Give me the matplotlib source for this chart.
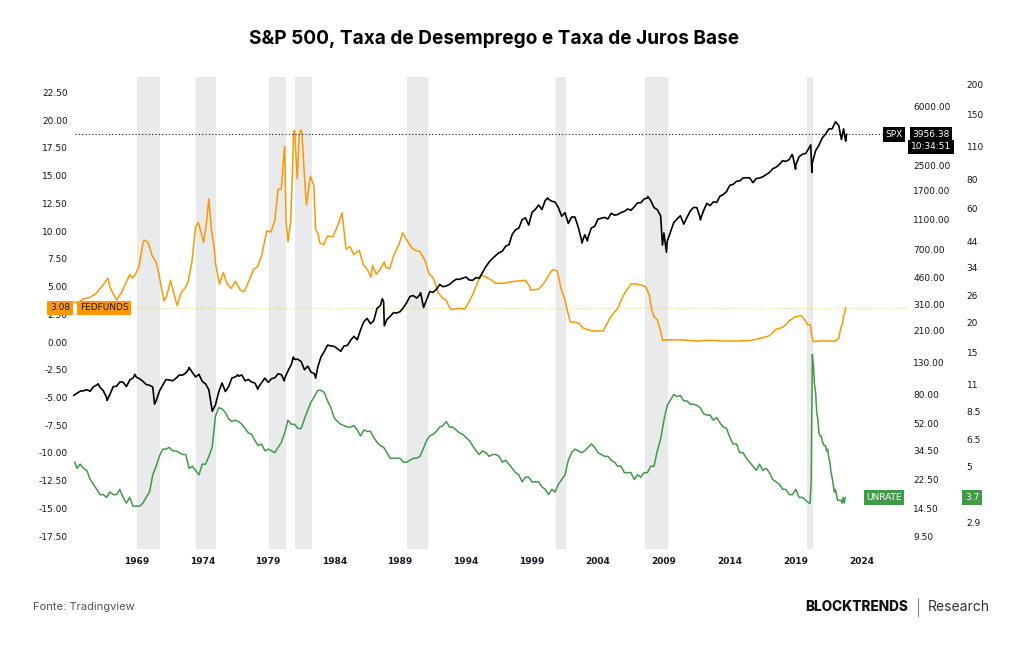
import matplotlib.pyplot as plt
import numpy as np
from matplotlib.ticker import FixedLocator, FixedFormatter, NullLocator
from matplotlib.transforms import blended_transform_factory
from matplotlib.lines import Line2D

# ---------------- data ----------------
# S&P 500 quarter-end closes, 1964..2021 (Q1..Q4)
spx_years = list(range(1964, 2022))
spx_quarters = [
    [78.98, 81.69, 84.18, 84.75], [86.16, 84.12, 89.96, 92.43],
    [89.23, 84.74, 76.56, 80.33], [90.20, 90.64, 96.71, 96.47],
    [90.20, 99.58, 102.67, 103.86], [101.51, 97.71, 93.12, 92.06],
    [89.63, 72.72, 84.21, 92.15], [100.31, 99.70, 98.34, 102.09],
    [107.20, 107.14, 110.55, 118.05], [111.52, 104.26, 108.43, 97.55],
    [93.98, 86.00, 63.54, 68.56], [83.36, 95.19, 83.87, 90.19],
    [102.77, 104.28, 105.24, 107.46], [98.42, 100.48, 96.53, 95.10],
    [89.21, 95.53, 102.54, 96.11], [101.59, 102.91, 109.32, 107.94],
    [102.09, 114.24, 125.46, 135.76], [136.00, 131.21, 116.18, 122.55],
    [111.96, 109.61, 120.42, 140.64], [152.96, 168.11, 166.07, 164.93],
    [159.18, 153.18, 166.10, 167.24], [180.66, 191.85, 182.08, 211.28],
    [238.90, 250.84, 231.32, 242.17], [291.70, 304.00, 321.83, 247.08],
    [258.89, 273.50, 271.91, 277.72], [294.87, 317.98, 349.15, 353.40],
    [339.94, 358.02, 306.05, 330.22], [375.22, 371.16, 387.86, 417.09],
    [403.69, 408.14, 417.80, 435.71], [451.67, 450.53, 458.93, 466.45],
    [445.77, 444.27, 462.69, 459.27], [500.71, 544.75, 584.41, 615.93],
    [645.50, 670.63, 687.33, 740.74], [757.12, 885.14, 947.28, 970.43],
    [1101.75, 1133.84, 1017.01, 1229.23], [1286.37, 1372.71, 1282.71, 1469.25],
    [1498.58, 1454.60, 1436.51, 1320.28], [1160.33, 1224.42, 1040.94, 1148.08],
    [1147.39, 989.82, 815.28, 879.82], [848.18, 974.50, 995.97, 1111.92],
    [1126.21, 1140.84, 1114.58, 1211.92], [1180.59, 1191.33, 1228.81, 1248.29],
    [1294.83, 1270.20, 1335.85, 1418.30], [1420.86, 1503.35, 1526.75, 1468.36],
    [1322.70, 1280.00, 1166.36, 903.25], [797.87, 919.32, 1057.08, 1115.10],
    [1169.43, 1030.71, 1141.20, 1257.64], [1325.83, 1320.64, 1131.42, 1257.60],
    [1408.47, 1362.16, 1440.67, 1426.19], [1569.19, 1606.28, 1681.55, 1848.36],
    [1872.34, 1960.23, 1972.29, 2058.90], [2067.89, 2063.11, 1920.03, 2043.94],
    [2059.74, 2098.86, 2168.27, 2238.83], [2362.72, 2423.41, 2519.36, 2673.61],
    [2640.87, 2718.37, 2913.98, 2506.85], [2834.40, 2941.76, 2976.74, 3230.78],
    [2584.59, 3100.29, 3363.00, 3756.07], [3972.89, 4297.50, 4307.54, 4766.18],
]
# intermediate highs / lows and the last months
spx_extra_dates = [1966.10, 1966.78, 1968.90, 1970.38, 1973.00, 1974.76, 1976.70,
                   1978.20, 1980.22, 1980.90, 1982.60, 1987.65, 1987.80, 1990.55,
                   1990.78, 2000.20, 2002.78, 2003.20, 2007.78, 2008.89, 2009.19,
                   2011.76, 2018.72, 2018.98, 2020.13, 2020.22, 2022.00, 2022.25,
                   2022.46, 2022.62, 2022.78, 2022.83, 2022.86]
spx_extra_vals = [94.06, 73.20, 108.37, 69.29, 120.24, 62.28, 107.80,
                  86.90, 98.22, 140.52, 102.42, 336.77, 224.84, 368.95,
                  295.46, 1527.46, 776.76, 800.73, 1565.15, 752.44, 676.53,
                  1099.23, 2930.75, 2351.10, 3386.15, 2237.40, 4796.56, 4530.41,
                  3666.77, 4305.20, 3577.03, 3871.98, 3956.38]

# Unemployment rate, values for Jan/Apr/Jul/Oct, 1965..2019
un_years = list(range(1965, 2020))
un_quarters = [
    [4.9, 4.8, 4.4, 4.2], [4.0, 3.8, 3.8, 3.7], [3.9, 3.8, 3.8, 4.0],
    [3.7, 3.5, 3.7, 3.4], [3.4, 3.4, 3.5, 3.7], [3.9, 4.6, 5.0, 5.5],
    [5.9, 5.9, 6.0, 5.8], [5.8, 5.7, 5.6, 5.6], [4.9, 5.0, 4.8, 4.6],
    [5.1, 5.1, 5.5, 6.0], [8.1, 8.8, 8.7, 8.4], [7.9, 7.7, 7.8, 7.7],
    [7.5, 7.2, 6.9, 6.8], [6.4, 6.1, 6.2, 5.8], [5.9, 5.8, 5.7, 6.0],
    [6.3, 6.9, 7.8, 7.5], [7.5, 7.2, 7.2, 7.9], [8.6, 9.3, 9.8, 10.4],
    [10.4, 10.2, 9.4, 8.8], [8.0, 7.7, 7.5, 7.4], [7.3, 7.3, 7.4, 7.1],
    [6.7, 7.1, 7.0, 7.0], [6.6, 6.3, 6.1, 6.0], [5.7, 5.4, 5.4, 5.4],
    [5.4, 5.2, 5.2, 5.3], [5.4, 5.4, 5.5, 5.9], [6.4, 6.7, 6.8, 7.0],
    [7.3, 7.4, 7.7, 7.3], [7.3, 7.1, 6.9, 6.8], [6.6, 6.4, 6.1, 5.8],
    [5.6, 5.8, 5.7, 5.5], [5.6, 5.6, 5.5, 5.2], [5.3, 5.1, 4.9, 4.7],
    [4.6, 4.3, 4.5, 4.5], [4.3, 4.3, 4.3, 4.1], [4.0, 3.8, 4.0, 3.9],
    [4.2, 4.4, 4.6, 5.3], [5.7, 5.9, 5.8, 5.7], [5.8, 6.0, 6.2, 6.0],
    [5.7, 5.6, 5.5, 5.5], [5.3, 5.2, 5.0, 5.0], [4.7, 4.7, 4.7, 4.4],
    [4.6, 4.5, 4.7, 4.7], [5.0, 5.0, 5.8, 6.5], [7.8, 9.0, 9.5, 10.0],
    [9.8, 9.9, 9.4, 9.4], [9.1, 9.1, 9.0, 8.8], [8.3, 8.2, 8.2, 7.8],
    [8.0, 7.6, 7.3, 7.2], [6.6, 6.2, 6.2, 5.7], [5.7, 5.4, 5.2, 5.0],
    [4.8, 5.1, 4.8, 4.9], [4.7, 4.4, 4.3, 4.2], [4.0, 4.0, 3.8, 3.8],
    [4.0, 3.7, 3.7, 3.6],
]
un_start_dates = [1964.33, 1964.50, 1964.75]
un_start_vals = [5.2, 4.9, 5.1]
# monthly 2020-01 .. 2022-10
un_recent = [3.5, 3.5, 4.4, 14.7, 13.2, 11.0, 10.2, 8.4, 7.9, 6.9, 6.7, 6.7,
             6.4, 6.2, 6.1, 6.1, 5.8, 5.9, 5.4, 5.2, 4.7, 4.5, 4.2, 3.9,
             4.0, 3.8, 3.6, 3.6, 3.6, 3.6, 3.5, 3.7, 3.5, 3.7]

# Effective federal funds rate
fed_dates = [1964.33, 1964.60, 1964.90, 1965.50, 1965.90, 1966.50, 1966.85, 1967.00,
             1967.50, 1967.90, 1968.50, 1968.70, 1968.90, 1969.20, 1969.50, 1969.60,
             1969.90, 1970.20, 1970.50, 1970.70, 1970.90, 1971.10, 1971.30, 1971.60,
             1971.90, 1972.10, 1972.40, 1972.70, 1972.90, 1973.20, 1973.50, 1973.70,
             1973.90, 1974.10, 1974.30, 1974.50, 1974.70, 1974.90, 1975.00, 1975.30,
             1975.60, 1975.90, 1976.20, 1976.50, 1976.90, 1977.20, 1977.50, 1977.90,
             1978.20, 1978.50, 1978.90, 1979.20, 1979.50, 1979.75, 1979.90, 1980.00,
             1980.20, 1980.25, 1980.35, 1980.50, 1980.70, 1980.85, 1980.92, 1981.00,
             1981.20, 1981.35, 1981.45, 1981.55, 1981.70, 1981.90, 1982.00, 1982.20,
             1982.45, 1982.60, 1982.80, 1982.90, 1983.20, 1983.50, 1983.90, 1984.20,
             1984.60, 1984.90, 1985.20, 1985.50, 1985.90, 1986.20, 1986.50, 1986.80,
             1986.90, 1987.20, 1987.50, 1987.80, 1987.90, 1988.20, 1988.50, 1988.90,
             1989.20, 1989.50, 1989.90, 1990.20, 1990.50, 1990.90, 1991.20, 1991.50,
             1991.90, 1992.20, 1992.50, 1992.70, 1992.90, 1993.50, 1993.90, 1994.20,
             1994.50, 1994.90, 1995.20, 1995.50, 1995.90, 1996.20, 1996.90, 1997.20,
             1997.90, 1998.50, 1998.80, 1998.90, 1999.50, 1999.90, 2000.40, 2000.60,
             2000.90, 2001.00, 2001.20, 2001.50, 2001.75, 2001.90, 2002.50, 2002.90,
             2003.50, 2003.90, 2004.40, 2004.90, 2005.50, 2005.90, 2006.50, 2006.90,
             2007.60, 2007.90, 2008.05, 2008.25, 2008.50, 2008.75, 2008.90, 2009.50,
             2010.50, 2011.50, 2012.50, 2013.50, 2014.50, 2015.50, 2015.95, 2016.50,
             2016.95, 2017.20, 2017.50, 2017.95, 2018.20, 2018.50, 2018.95, 2019.40,
             2019.65, 2019.90, 2020.10, 2020.20, 2020.30, 2020.90, 2021.50, 2022.00,
             2022.25, 2022.40, 2022.55, 2022.60, 2022.70, 2022.78]
fed_vals = [3.60, 3.50, 3.85, 4.04, 4.32, 5.17, 5.76, 4.94,
            3.79, 4.51, 6.07, 5.78, 6.02, 6.79, 8.90, 9.19,
            8.97, 7.76, 7.21, 6.20, 4.90, 3.71, 4.15, 5.57,
            4.14, 3.29, 4.46, 4.87, 5.33, 7.09, 10.40, 10.78,
            9.95, 8.97, 10.51, 12.92, 10.06, 8.53, 7.13, 5.22,
            6.24, 5.20, 4.84, 5.48, 4.65, 4.54, 5.42, 6.56,
            6.79, 7.81, 10.03, 9.91, 10.94, 13.77, 13.78, 13.82,
            17.19, 17.61, 10.98, 9.03, 10.87, 15.85, 18.90, 19.08,
            14.70, 18.52, 19.10, 19.04, 15.87, 12.37, 13.22, 14.94,
            14.15, 10.12, 9.71, 8.95, 8.77, 9.56, 9.47, 10.29,
            11.64, 8.38, 8.58, 7.88, 8.27, 6.99, 6.56, 5.85,
            6.91, 6.10, 6.58, 7.22, 6.77, 6.58, 7.75, 8.76,
            9.85, 9.20, 8.45, 8.25, 8.15, 7.31, 6.12, 5.82,
            4.43, 3.98, 3.76, 3.22, 2.92, 3.04, 2.96, 3.56,
            4.26, 5.45, 6.05, 5.85, 5.60, 5.30, 5.29, 5.39,
            5.50, 5.56, 5.07, 4.68, 4.76, 5.30, 6.27, 6.54,
            6.40, 5.98, 4.80, 3.77, 2.49, 1.82, 1.73, 1.24,
            1.01, 0.98, 1.00, 2.16, 3.04, 4.16, 5.24, 5.24,
            5.02, 4.24, 2.98, 2.28, 2.01, 0.97, 0.16, 0.21,
            0.18, 0.09, 0.16, 0.09, 0.09, 0.13, 0.24, 0.39,
            0.54, 0.79, 1.15, 1.30, 1.51, 1.91, 2.27, 2.38,
            2.04, 1.55, 1.58, 0.65, 0.05, 0.09, 0.08, 0.08,
            0.33, 1.21, 1.68, 2.33, 2.56, 3.08]

# shaded periods (as drawn on the chart)
rec_start = [1969.03, 1973.53, 1979.04, 1981.03, 1989.55, 2000.82, 2007.57, 2019.83]
rec_end = [1970.80, 1975.04, 1980.33, 1982.30, 1991.09, 2001.58, 2009.29, 2020.33]

year_ticks = list(range(1969, 2025, 5))
fed_ticks = np.arange(-17.5, 22.51, 2.5)
spx_ticks = [9.5, 14.5, 22.5, 34.5, 52, 80, 130, 210, 310, 460, 700, 1100, 1700, 2500, 6000]
un_ticks = [2.9, 5, 6.5, 8.5, 11, 15, 20, 26, 34, 44, 60, 80, 110, 150, 200]
un_tick_labels = ["2.9", "5", "6.5", "8.5", "11", "15", "20", "26", "34", "44",
                  "60", "80", "110", "150", "200"]

# ---------------- build series ----------------
spx_d = [y + 0.25 * (q + 1) for y in spx_years for q in range(4)] + spx_extra_dates
spx_v = [v for row in spx_quarters for v in row] + spx_extra_vals
order = np.argsort(spx_d)
spx_d = np.array(spx_d)[order]
spx_v = np.array(spx_v)[order]

un_d = un_start_dates + [y + 0.25 * q for y in un_years for q in range(4)] \
    + [2020 + i / 12 for i in range(len(un_recent))]
un_v = un_start_vals + [v for row in un_quarters for v in row] + un_recent

ORANGE = "#ff9800"
GREEN = "#3f9b46"
TXT = "#131722"

W, H = 1024, 645
fig = plt.figure(figsize=(W / 100, H / 100), dpi=100)
ax = fig.add_axes([72 / W, 96 / H, 806 / W, 472 / H])
ax2 = ax.twinx()
ax3 = ax.twinx()

for s, e in zip(rec_start, rec_end):
    ax.axvspan(s, e, color="#e9eaec", lw=0, zorder=0)

ax.plot(fed_dates, fed_vals, color=ORANGE, lw=1.1, zorder=2)
ax2.plot(spx_d, spx_v, color="black", lw=1.2, zorder=3)
ax3.plot(un_d, un_v, color=GREEN, lw=1.1, zorder=3)

ax.set_xlim(1964.125, 2025.23)
ax.set_ylim(-18.66, 23.89)
ax2.set_yscale("log")
ax2.set_ylim(7.90, 9368)
ax3.set_yscale("log")
ax3.set_ylim(2.248, 214.6)

for a in (ax, ax2, ax3):
    for sp in a.spines.values():
        sp.set_visible(False)

ax.set_xticks(year_ticks)
ax.set_xticklabels([str(y) for y in year_ticks], fontweight="bold")
ax.set_yticks(fed_ticks)
ax.set_yticklabels([f"{v:.2f}" for v in fed_ticks])
ax.tick_params(axis="x", length=0, pad=6, labelsize=6.5, labelcolor=TXT)
ax.tick_params(axis="y", length=0, pad=3, labelsize=6.5, labelcolor=TXT)

ax2.yaxis.set_major_locator(FixedLocator(spx_ticks))
ax2.yaxis.set_major_formatter(FixedFormatter([f"{v:.2f}" for v in spx_ticks]))
ax2.yaxis.set_minor_locator(NullLocator())
ax2.tick_params(axis="y", length=0, pad=25.4, labelsize=6.5, labelcolor=TXT)

ax3.yaxis.set_major_locator(FixedLocator(un_ticks))
ax3.yaxis.set_major_formatter(FixedFormatter(un_tick_labels))
ax3.yaxis.set_minor_locator(NullLocator())
ax3.tick_params(axis="y", length=0, pad=63.9, labelsize=6.5, labelcolor=TXT)

# last value lines
spx_last = spx_v[-1]
fed_last = fed_vals[-1]
un_last = un_v[-1]
ax2.axhline(spx_last, xmin=0.004, xmax=1.005, color=TXT, lw=0.8,
            ls=(0, (1, 2)), clip_on=False)
ax.axhline(fed_last, xmin=0.004, xmax=1.037, color=ORANGE, alpha=0.35, lw=0.7,
           ls=(0, (2, 2)), clip_on=False)

# value labels
tr_fed = blended_transform_factory(fig.transFigure, ax.transData)
tr_spx = blended_transform_factory(fig.transFigure, ax2.transData)
tr_un = blended_transform_factory(fig.transFigure, ax3.transData)

def tag(x, y, s, tr, fc, tc, size=6.5):
    fig.text(x / W, y, s, transform=tr, ha="center", va="center", fontsize=size,
             color=tc, bbox=dict(boxstyle="square,pad=0.3", fc=fc, ec="none"))

tag(60, fed_last, f"{fed_last:.2f}", tr_fed, ORANGE, TXT)
tag(104, fed_last, "FEDFUNDS", tr_fed, ORANGE, TXT)
tag(894, spx_last, "SPX", tr_spx, "black", "white")
tag(931, spx_last, f"{spx_last:.2f}", tr_spx, "black", "white")
ax2.annotate("10:34:51", xy=(931 / W, spx_last), xycoords=tr_spx, xytext=(0, -9),
             textcoords="offset points", ha="center", va="center", fontsize=6.5,
             color="white", bbox=dict(boxstyle="square,pad=0.3", fc="black", ec="none"),
             annotation_clip=False)
tag(884, un_last, "UNRATE", tr_un, GREEN, "white")
tag(972, un_last, f"{un_last:.1f}", tr_un, GREEN, "white")

# title and footer
fig.text(494 / W, 1 - 39 / H, "S&P 500, Taxa de Desemprego e Taxa de Juros Base",
         ha="center", va="center", fontsize=13.7, fontweight="bold", family="Inter",
         color="black")
fig.text(33 / W, 1 - 607 / H, "Fonte: Tradingview", ha="left", va="center",
         fontsize=8, family="Inter", color="#555555")
fig.text(908 / W, 1 - 607 / H, "BLOCKTRENDS", ha="right", va="center",
         fontsize=9.8, family="Inter", fontweight="heavy", color="#111111")
fig.add_artist(Line2D([918 / W, 918 / W], [1 - 598 / H, 1 - 616 / H],
                      transform=fig.transFigure, color="#888888", lw=0.8))
fig.text(928 / W, 1 - 607 / H, "Research", ha="left", va="center",
         fontsize=10, family="Inter", color="#333333")

fig.savefig("out.png", dpi=100)
